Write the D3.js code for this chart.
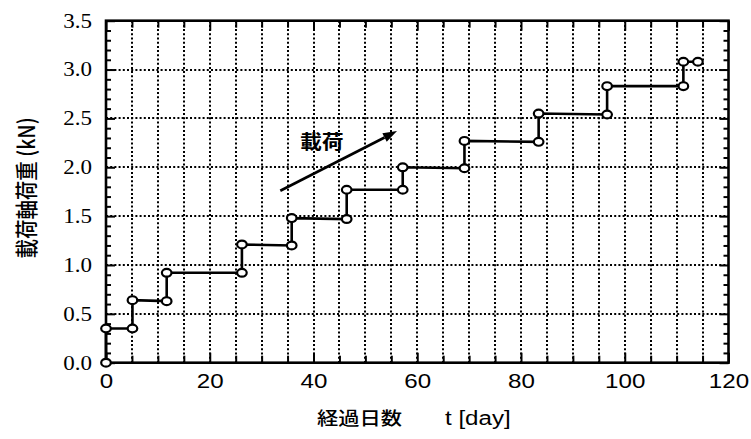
<!DOCTYPE html>
<html>
<head>
<meta charset="utf-8">
<script src="https://cdn.jsdelivr.net/npm/d3@7"></script>
<style>
  html, body { margin: 0; padding: 0; background: #fff; }
  svg { display: block; }
</style>
</head>
<body>
<svg id="chart" width="751" height="439"></svg>
<script>
// Elapsed time (days) and axial load (kN) at each corner of the loading steps
const tDays  = [0, 0, 5.1, 5.1, 11.7, 11.7, 26.2, 26.2, 35.8, 35.8, 46.4, 46.4,
                57.2, 57.2, 69.1, 69.1, 83.4, 83.4, 96.6, 96.6, 111.3, 111.3, 114.1];
const loadKN = [0, 0.35, 0.35, 0.64, 0.63, 0.92, 0.92, 1.21, 1.2, 1.48, 1.47, 1.77,
                1.77, 2.0, 1.99, 2.27, 2.26, 2.55, 2.54, 2.83, 2.83, 3.08, 3.08];

// Axis ticks and labels
const xMajorTicks = [0, 20, 40, 60, 80, 100, 120];
const xMinorTicks = [5, 10, 15, 25, 30, 35, 45, 50, 55, 65, 70, 75, 85, 90, 95, 105, 110, 115];
const yMajorTicks = [0.0, 0.5, 1.0, 1.5, 2.0, 2.5, 3.0, 3.5];
const yMinorTicks = [0.1,0.2,0.3,0.4, 0.6,0.7,0.8,0.9, 1.1,1.2,1.3,1.4, 1.6,1.7,1.8,1.9,
                     2.1,2.2,2.3,2.4, 2.6,2.7,2.8,2.9, 3.1,3.2,3.3,3.4];
const xTitle = ["経過日数", "t [day]"];
const yTitle = "載荷軸荷重 (kN)";

// "Loading" arrow annotation, in data units
const arrowFrom = [33.6, 1.76];
const arrowTo   = [56.1, 2.37];
const arrowText = "載荷";
const arrowTextAt = [41.6, 2.27];

(function draw() {
  const svg = d3.select("#chart");
  const sx = 1.15; // horizontal glyph stretch

  const x = d3.scaleLinear().domain([0, 120]).range([106, 728.5]);
  const y = d3.scaleLinear().domain([0, 3.5]).range([362.7, 20.7]);

  svg.append("rect").attr("width", 751).attr("height", 439).attr("fill", "#fff");

  // Dotted grid
  const grid = svg.append("g")
    .attr("stroke", "#000").attr("stroke-width", 2).attr("stroke-dasharray", "2 2.2");
  grid.selectAll("line.v").data(xMinorTicks.concat(xMajorTicks.slice(1, -1))).join("line")
    .attr("class", "v")
    .attr("x1", d => Math.round(x(d))).attr("x2", d => Math.round(x(d)))
    .attr("y1", y(3.5)).attr("y2", y(0));
  grid.selectAll("line.h").data(yMajorTicks.slice(1, -1)).join("line")
    .attr("class", "h")
    .attr("x1", x(0)).attr("x2", x(120))
    .attr("y1", d => Math.round(y(d))).attr("y2", d => Math.round(y(d)));

  // Axes with inward ticks on all four sides
  function styleAxis(g) {
    g.select(".domain").remove();
    g.selectAll(".tick line").attr("stroke", "#000").attr("stroke-width", 2);
  }
  const axB = svg.append("g").attr("transform", `translate(0,${y(0)})`);
  axB.append("g").call(d3.axisBottom(x).tickValues(xMinorTicks).tickSize(-7).tickFormat("")).call(styleAxis);
  const bMaj = axB.append("g").call(d3.axisBottom(x).tickValues(xMajorTicks).tickSize(-10).tickPadding(10).tickFormat(d3.format("d"))).call(styleAxis);
  bMaj.selectAll(".tick text")
    .attr("font-family", "'Liberation Sans', Arial, sans-serif").attr("font-size", 21)
    .attr("fill", "#000").attr("transform", `scale(${sx},1)`);

  const axT = svg.append("g").attr("transform", `translate(0,${y(3.5)})`);
  axT.append("g").call(d3.axisTop(x).tickValues(xMinorTicks).tickSize(-7).tickFormat("")).call(styleAxis);
  axT.append("g").call(d3.axisTop(x).tickValues(xMajorTicks).tickSize(-10).tickFormat("")).call(styleAxis);

  const axL = svg.append("g").attr("transform", `translate(${x(0)},0)`);
  axL.append("g").call(d3.axisLeft(y).tickValues(yMinorTicks).tickSize(-5).tickFormat("")).call(styleAxis);
  const lMaj = axL.append("g").call(d3.axisLeft(y).tickValues(yMajorTicks).tickSize(-9).tickPadding(14).tickFormat(d3.format(".1f"))).call(styleAxis);
  lMaj.selectAll(".tick text")
    .attr("x", null)
    .attr("font-family", "'Liberation Serif', 'Times New Roman', serif").attr("font-size", 20)
    .attr("fill", "#000").attr("transform", `translate(-14,0) scale(${sx},1)`);

  const axR = svg.append("g").attr("transform", `translate(${x(120)},0)`);
  axR.append("g").call(d3.axisRight(y).tickValues(yMinorTicks).tickSize(-5).tickFormat("")).call(styleAxis);
  axR.append("g").call(d3.axisRight(y).tickValues(yMajorTicks).tickSize(-9).tickFormat("")).call(styleAxis);

  // Plot frame
  svg.append("rect")
    .attr("x", x(0)).attr("y", y(3.5))
    .attr("width", x(120) - x(0)).attr("height", y(0) - y(3.5))
    .attr("fill", "none").attr("stroke", "#000").attr("stroke-width", 2.6);

  // Step loading history
  const pts = tDays.map((t, i) => [t, loadKN[i]]);
  svg.append("path")
    .attr("d", d3.line().x(d => x(d[0])).y(d => y(d[1]))(pts))
    .attr("fill", "none").attr("stroke", "#000").attr("stroke-width", 2.6);
  svg.append("g").selectAll("ellipse").data(pts).join("ellipse")
    .attr("cx", d => x(d[0])).attr("cy", d => y(d[1]))
    .attr("rx", 4.8).attr("ry", 3.9)
    .attr("fill", "#fff").attr("stroke", "#000").attr("stroke-width", 2.2);

  // Arrow annotation
  const ax0 = x(arrowFrom[0]), ay0 = y(arrowFrom[1]);
  const ax1 = x(arrowTo[0]),   ay1 = y(arrowTo[1]);
  const ang = Math.atan2(ay1 - ay0, ax1 - ax0);
  const headLen = 14, headHalf = 4.8;
  const bx = ax1 - headLen * Math.cos(ang), by = ay1 - headLen * Math.sin(ang);
  svg.append("line")
    .attr("x1", ax0).attr("y1", ay0).attr("x2", bx).attr("y2", by)
    .attr("stroke", "#000").attr("stroke-width", 2.6);
  svg.append("path")
    .attr("d", `M${ax1},${ay1}L${bx - headHalf * Math.sin(ang)},${by + headHalf * Math.cos(ang)}` +
               `L${bx + headHalf * Math.sin(ang)},${by - headHalf * Math.cos(ang)}Z`)
    .attr("fill", "#000");
  svg.append("text")
    .attr("transform", `translate(${x(arrowTextAt[0])},${y(arrowTextAt[1])}) scale(${sx},1)`)
    .attr("text-anchor", "middle").attr("dominant-baseline", "central")
    .attr("font-family", "'Noto Sans CJK JP', sans-serif").attr("font-size", 19).attr("font-weight", 700)
    .attr("fill", "#000").text(arrowText);

  // Axis titles
  const xt = svg.append("text")
    .attr("transform", `translate(317,425) scale(${sx},1)`)
    .attr("font-family", "'Noto Sans CJK JP', sans-serif").attr("font-size", 18.5)
    .attr("font-weight", 500).attr("fill", "#000");
  xt.append("tspan").attr("x", 0).text(xTitle[0]);
  xt.append("tspan").attr("x", (445 - 317) / sx)
    .attr("font-family", "'Liberation Sans', Arial, sans-serif").attr("font-size", 21)
    .text(xTitle[1]);

  svg.append("text")
    .attr("transform", `translate(25,188) scale(${sx},1) rotate(-90)`)
    .attr("text-anchor", "middle").attr("dominant-baseline", "central")
    .attr("font-family", "'Noto Sans CJK JP', sans-serif").attr("font-size", 19.5)
    .attr("font-weight", 500).attr("fill", "#000").text(yTitle);
})();
</script>
</body>
</html>
